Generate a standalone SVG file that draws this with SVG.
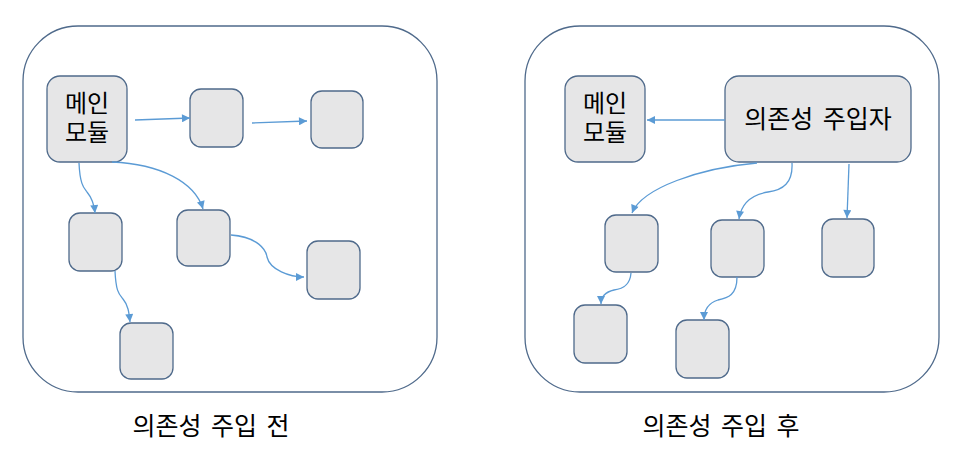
<svg xmlns="http://www.w3.org/2000/svg" width="967" height="466" viewBox="0 0 967 466">
<style>
.box{fill:#fff;stroke:#4f6a8b;stroke-width:1.3}
.n{fill:#e6e6e7;stroke:#4f6a8b;stroke-width:1.3}
.c{fill:none;stroke:#5b9bd5;stroke-width:1.3;marker-end:url(#ah)}
.t{font-family:"Malgun Gothic","Noto Sans CJK KR",sans-serif;font-size:24px;fill:#000;text-anchor:middle}
.cap{font-family:"Malgun Gothic","Noto Sans CJK KR",sans-serif;font-size:25px;fill:#000;text-anchor:middle;word-spacing:4px}
</style>
<defs>
<marker id="ah" viewBox="0 0 10 10" refX="10" refY="5" markerWidth="9" markerHeight="8" markerUnits="userSpaceOnUse" orient="auto">
<path d="M0,0 L10,5 L0,10 z" fill="#5b9bd5"/>
</marker>
</defs>
<rect width="967" height="466" fill="#fff"/>
<g id="before">
<rect class="box" x="23" y="26" width="414" height="366" rx="55" ry="55"/>
<text class="cap" x="211" y="435">의존성 주입 전</text>
</g>
<g id="after">
<rect class="box" x="525" y="26" width="414" height="366" rx="55" ry="55"/>
<text class="cap" x="721" y="435">의존성 주입 후</text>
</g>
<g id="L-main"><rect class="n" x="47" y="76" width="80" height="86" rx="13"/><text class="t"><tspan x="87" y="112">메인</tspan><tspan x="87" y="141">모듈</tspan></text></g>
<g id="L-a"><rect class="n" x="190" y="89" width="53" height="58" rx="11"/></g>
<g id="L-b"><rect class="n" x="311" y="91" width="52" height="57" rx="11"/></g>
<g id="L-c"><rect class="n" x="69" y="213" width="53" height="58" rx="11"/></g>
<g id="L-d"><rect class="n" x="177" y="210" width="53" height="56" rx="11"/></g>
<g id="L-e"><rect class="n" x="307" y="241" width="53" height="58" rx="11"/></g>
<g id="L-f"><rect class="n" x="120" y="323" width="53" height="56" rx="11"/></g>
<g id="R-main"><rect class="n" x="565" y="76" width="80" height="86" rx="13"/><text class="t"><tspan x="605" y="112">메인</tspan><tspan x="605" y="141">모듈</tspan></text></g>
<g id="R-inj"><rect class="n" x="725" y="76" width="186" height="86" rx="14"/><text class="t" x="818" y="128" style="font-size:25px;word-spacing:4px">의존성 주입자</text></g>
<g id="R-1"><rect class="n" x="605" y="215" width="53" height="57" rx="11"/></g>
<g id="R-2"><rect class="n" x="711" y="220" width="53" height="57" rx="11"/></g>
<g id="R-3"><rect class="n" x="822" y="219" width="52" height="58" rx="11"/></g>
<g id="R-4"><rect class="n" x="574" y="305" width="53" height="58" rx="11"/></g>
<g id="R-5"><rect class="n" x="676" y="320" width="53" height="58" rx="11"/></g>
<g id="connectors">
<path class="c" d="M135,120 L190,118"/>
<path class="c" d="M252,123 L307,121"/>
<path class="c" d="M79,163 C80,185 84,188 87,192 C92,198 94,203 95,213"/>
<path class="c" d="M112,162 C160,164 195,182 203,209"/>
<path class="c" d="M231,235 C258,237 266,250 267,257 C270,270 290,277 304,277"/>
<path class="c" d="M115,271 C116,292 119,294 123,299 C128,305 129,312 130,322"/>
<path class="c" d="M725,120 L647,120"/>
<path class="c" d="M757,163 C700,168 642,188 632,213"/>
<path class="c" d="M792,163 C793,183 783,190 768,192 C750,195 741,205 739,219"/>
<path class="c" d="M849,164 L847,218"/>
<path class="c" d="M631,273 C630,286 622,289 614,290 C605,292 601,297 601,304"/>
<path class="c" d="M737,277 C737,295 728,298 718,300 C708,303 704,310 704,320"/>
</g>
</svg>
